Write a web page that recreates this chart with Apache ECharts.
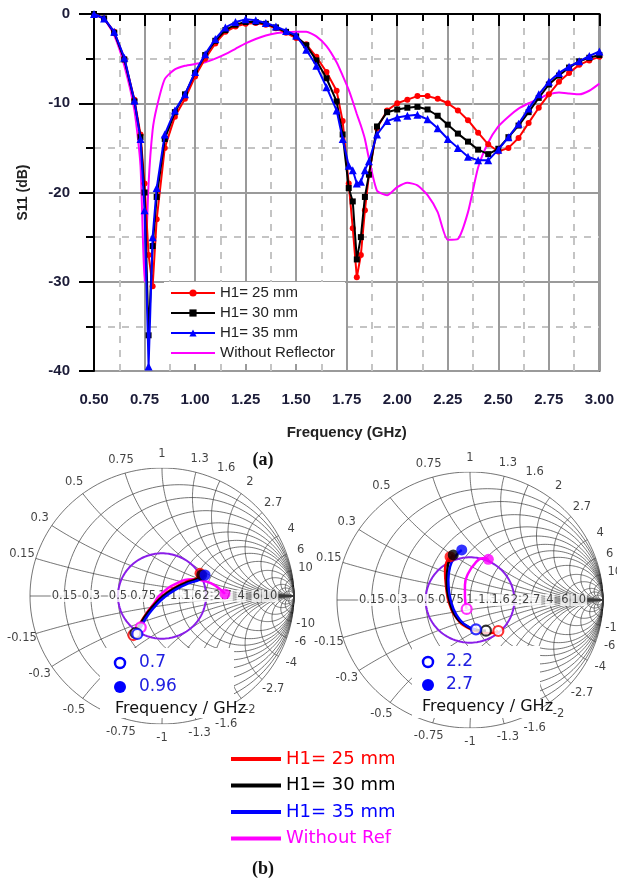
<!DOCTYPE html>
<html><head><meta charset="utf-8">
<script src="https://cdn.jsdelivr.net/npm/echarts@6/dist/echarts.min.js"></script>
<style>html,body{margin:0;padding:0;background:#fff}#c{width:617px;height:882px}</style>
</head><body><div id="c"></div>
<script>
// ---------- (a) S11 data ----------
const freq = [0.50,0.55,0.60,0.65,0.70,0.73,0.75,0.77,0.79,0.81,0.85,0.90,0.95,1.00,1.05,1.10,1.15,1.20,1.25,1.30,1.35,1.40,1.45,1.50,1.55,1.60,1.65,1.70,1.73,1.76,1.78,1.80,1.82,1.84,1.86,1.90,1.95,2.00,2.05,2.10,2.15,2.20,2.25,2.30,2.35,2.40,2.45,2.50,2.55,2.60,2.65,2.70,2.75,2.80,2.85,2.90,2.95,3.00];
const s11_25 = [0,-0.5,-2.0,-5.0,-9.6,-13.5,-19,-27,-30.5,-23,-15,-11.5,-9.5,-7.0,-5.0,-3.3,-2.0,-1.4,-1.1,-1.0,-1.2,-1.6,-2.1,-2.7,-3.4,-4.8,-6.5,-8.6,-12,-19,-24,-29.5,-27,-22,-18,-12.8,-10.8,-10.0,-9.6,-9.2,-9.2,-9.5,-10.0,-10.8,-11.9,-13.3,-14.6,-15.4,-15.0,-13.9,-12.2,-10.5,-9.0,-7.6,-6.6,-5.7,-5.2,-4.8];
const s11_30 = [0,-0.5,-2.1,-5.1,-9.8,-13.8,-20,-36,-26,-20.5,-14,-11,-9,-6.6,-4.6,-3.0,-1.8,-1.2,-0.9,-0.9,-1.1,-1.5,-2.0,-2.5,-3.5,-5.2,-7.2,-9.8,-13.5,-19.5,-21,-27.5,-25,-20.5,-18,-12.6,-11.0,-10.7,-10.5,-10.4,-10.7,-11.4,-12.4,-13.4,-14.3,-15.2,-15.7,-15.1,-13.8,-12.5,-11.0,-9.4,-7.9,-6.9,-6.0,-5.3,-4.9,-4.6];
const s11_35 = [0,-0.5,-2.0,-4.9,-9.7,-14.0,-22,-39.5,-25,-19.5,-13.5,-10.8,-9.0,-6.5,-4.5,-2.8,-1.5,-0.9,-0.6,-0.7,-1.0,-1.4,-1.9,-2.4,-4.0,-5.8,-8.2,-10.8,-14,-17,-17.5,-19,-18.8,-17.5,-16.5,-13.5,-12.0,-11.6,-11.4,-11.3,-11.8,-12.8,-14.0,-15.0,-16.0,-16.4,-16.4,-15.2,-13.8,-12.3,-10.6,-9.0,-7.6,-6.6,-5.9,-5.3,-4.7,-4.2];
const s11_noRef = [0,-0.6,-2.4,-5.8,-10.8,-17,-30,-19,-13,-10.5,-7.3,-6.2,-5.8,-5.6,-5.4,-5.0,-4.5,-3.9,-3.3,-2.8,-2.4,-2.15,-2.05,-2.0,-2.0,-2.5,-3.6,-5.4,-6.9,-8.5,-9.8,-11.2,-12.5,-14,-16.2,-19.8,-20.3,-19.4,-18.9,-19.2,-20.3,-22.2,-25.3,-25.2,-22.2,-17.2,-14.4,-12.6,-11.5,-10.6,-10.0,-9.5,-9.0,-8.8,-8.9,-9.0,-8.6,-7.8];
const xTicks = ['0.50','0.75','1.00','1.25','1.50','1.75','2.00','2.25','2.50','2.75','3.00'];
const yTicks = [0,-10,-20,-30,-40];
const namesA = ['H1= 25 mm','H1= 30 mm','H1= 35 mm','Without Reflector'];

// ---------- (b) reflection coefficient traces (Re Γ, Im Γ) ----------
const left25 = [[-0.217,-0.305],[-0.142,-0.174],[-0.078,-0.084],[-0.002,-0.005],[0.086,0.060],[0.187,0.112],[0.263,0.138],[0.288,0.177]];
const left30 = [[-0.201,-0.289],[-0.135,-0.170],[-0.070,-0.082],[0.005,-0.004],[0.093,0.058],[0.195,0.108],[0.272,0.135],[0.301,0.164]];
const left35 = [[-0.187,-0.297],[-0.125,-0.178],[-0.060,-0.090],[0.015,-0.012],[0.103,0.050],[0.205,0.100],[0.285,0.128],[0.326,0.164]];
const leftRef = [[-0.161,-0.245],[-0.116,-0.135],[-0.065,-0.065],[-0.015,0.008],[0.111,0.099],[0.237,0.130],[0.339,0.112],[0.414,0.073],[0.477,0.016]];
const right25 = [[0.213,-0.242],[0.150,-0.260],[0.062,-0.248],[-0.025,-0.213],[-0.100,-0.143],[-0.156,-0.026],[-0.180,0.104],[-0.188,0.234],[-0.175,0.299],[-0.150,0.338]];
const right30 = [[0.120,-0.240],[0.050,-0.234],[-0.038,-0.195],[-0.113,-0.117],[-0.156,0.000],[-0.175,0.130],[-0.168,0.260],[-0.126,0.352]];
const right35 = [[0.045,-0.229],[-0.013,-0.209],[-0.075,-0.156],[-0.126,-0.065],[-0.156,0.052],[-0.163,0.156],[-0.150,0.260],[-0.113,0.338],[-0.062,0.391]];
const rightRef = [[-0.025,-0.070],[-0.038,0.026],[-0.038,0.117],[-0.013,0.209],[0.038,0.287],[0.095,0.326],[0.138,0.318]];
const vswrGamma = 1/3;
const smithR = [0.15,0.3,0.5,0.75,1,1.3,1.6,2,2.7,4,6,10];
const smithX = [0.15,0.3,0.5,0.75,1,1.3,1.6,2,2.7,4,6,10];
const smithExtra = [15,25];
const bandLeft = ['0.7','0.96'];
const bandRight = ['2.2','2.7'];
const namesB = ['H1= 25 mm','H1= 30 mm','H1= 35 mm','Without Ref'];

const colors = ['#ff0000','#000000','#0000ff','#ff00ff'];

// ---------- Smith geometry ----------
function gam(r, x){ const d=(r+1)*(r+1)+x*x; return [(r*r+x*x-1)/d, 2*x/d]; }
function smithGrid(){
  const polys=[];
  [0].concat(smithR, smithExtra).forEach(r=>{
    const c=r/(1+r), rad=1/(1+r), pts=[];
    for(let k=0;k<=160;k++){const a=2*Math.PI*k/160; pts.push([c+rad*Math.cos(a), rad*Math.sin(a)]);}
    polys.push({coords:pts});
  });
  smithX.concat(smithExtra).forEach(x=>{[x,-x].forEach(xx=>{
    const pts=[]; for(let k=0;k<=100;k++){const s=(Math.PI/2)*0.999*k/100; pts.push(gam(Math.tan(s),xx));}
    polys.push({coords:pts});
  });});
  polys.push({coords:[[-1,0],[1,0]]});
  return polys;
}
function circlePoly(g){const pts=[];for(let k=0;k<=160;k++){const a=2*Math.PI*k/160;pts.push([g*Math.cos(a),g*Math.sin(a)]);}return [{coords:pts}];}
function reactLabels(){
  const out=[];
  smithX.forEach(x=>{[x,-x].forEach(xx=>{const g=gam(0,xx); out.push({name:String(xx), value:[g[0]*1.11,g[1]*1.11]});});});
  return out;
}
function resLabels(){ return smithR.map(r=>({name:String(r), value:[(r-1)/(r+1),0]})); }

function smithSeries(idx, tr){
  const s=[];
  s.push({type:'lines', coordinateSystem:'cartesian2d', xAxisIndex:idx, yAxisIndex:idx, polyline:true, silent:true, z:1,
    lineStyle:{color:'#3a3a3a', width:0.7, opacity:1}, data:smithGrid()});
  s.push({type:'lines', coordinateSystem:'cartesian2d', xAxisIndex:idx, yAxisIndex:idx, polyline:true, silent:true, z:3,
    lineStyle:{color:'#8a1ee8', width:2, opacity:1}, data:circlePoly(vswrGamma)});
  s.push({type:'scatter', xAxisIndex:idx, yAxisIndex:idx, symbolSize:1, clip:false, silent:true, z:4,
    itemStyle:{color:'rgba(0,0,0,0)'}, data:reactLabels(),
    label:{show:true, position:'inside', formatter:'{b}', color:'#111', fontSize:11.5, fontFamily:'DejaVu Sans'}});
  s.push({type:'scatter', xAxisIndex:idx, yAxisIndex:idx, symbolSize:1, clip:false, silent:true, z:4,
    itemStyle:{color:'rgba(0,0,0,0)'}, data:resLabels(),
    label:{show:true, position:'inside', formatter:'{b}', color:'#111', fontSize:11.5, fontFamily:'DejaVu Sans', backgroundColor:'#fff', padding:[0,1]}});
  const nm=['sm25','sm30','sm35','smRef'];
  const order=[3,0,1,2];
  order.forEach(i=>{
    s.push({type:'line', name:nm[i], xAxisIndex:idx, yAxisIndex:idx, data:tr[i], smooth:true, symbol:'none', z:5,
      lineStyle:{color:colors[i], width:2.5}, itemStyle:{color:colors[i]}});
  });
  order.forEach(i=>{
    s.push({type:'scatter', name:'mk', xAxisIndex:idx, yAxisIndex:idx, data:[tr[i][0]], symbol:'circle', symbolSize:10, z:6,
      itemStyle:{color:'#ffffff', borderColor:colors[i], borderWidth:2.2}});
    s.push({type:'scatter', name:'mk', xAxisIndex:idx, yAxisIndex:idx, data:[tr[i][tr[i].length-1]], symbol:'circle', symbolSize:11, z:6,
      itemStyle:{color:colors[i]}});
  });
  return s;
}

const pair = a => freq.map((f,i)=>[f,a[i]]);
const axisLblColor = '#1c1c38';

const option = {
  animation:false,
  grid:[
    {left:94, top:14, width:511, height:357, show:true, borderColor:'#555', borderWidth:2},
    {left:30, top:468, width:264, height:256},
    {left:337, top:472, width:266, height:256}
  ],
  xAxis:[
    {type:'value', gridIndex:0, min:0.5, max:3.0, interval:0.25,
      axisLine:{lineStyle:{color:'#000', width:2}},
      axisTick:{length:12, lineStyle:{color:'#000', width:2}},
      minorTick:{show:true, splitNumber:2, length:7, lineStyle:{color:'#000', width:2}},
      splitLine:{show:true, lineStyle:{color:'#9a9a9a', width:2}},
      minorSplitLine:{show:true, lineStyle:{color:'#c4c4c4', width:2, type:[7,7]}},
      axisLabel:{margin:21, fontWeight:'bold', fontSize:15, fontFamily:'Liberation Sans', color:axisLblColor,
        formatter:v=>{const t=v.toFixed(2); return xTicks.indexOf(t)>=0?t:'';}},
      name:'Frequency (GHz)', nameLocation:'middle', nameGap:54,
      nameTextStyle:{fontWeight:'bold', fontSize:15, fontFamily:'Liberation Sans', color:'#222'}},
    {type:'value', gridIndex:1, min:-1, max:1, show:false},
    {type:'value', gridIndex:2, min:-1, max:1, show:false}
  ],
  yAxis:[
    {type:'value', gridIndex:0, min:-40, max:0, interval:10,
      axisLine:{lineStyle:{color:'#000', width:2}},
      axisTick:{length:15, lineStyle:{color:'#000', width:2}},
      minorTick:{show:true, splitNumber:2, length:8, lineStyle:{color:'#000', width:2}},
      splitLine:{show:true, lineStyle:{color:'#9a9a9a', width:2}},
      minorSplitLine:{show:true, lineStyle:{color:'#c4c4c4', width:2, type:[7,7]}},
      axisLabel:{margin:24, fontWeight:'bold', fontSize:15, fontFamily:'Liberation Sans', color:axisLblColor,
        formatter:v=>yTicks.indexOf(v)>=0?String(v):''},
      name:'S11 (dB)', nameLocation:'middle', nameGap:64, nameRotate:90,
      nameTextStyle:{fontWeight:'bold', fontSize:14, fontFamily:'Liberation Sans', color:'#222'}},
    {type:'value', gridIndex:1, min:-1, max:1, show:false},
    {type:'value', gridIndex:2, min:-1, max:1, show:false}
  ],
  legend:[
    {data:[namesA[0],namesA[1],namesA[2],{name:namesA[3], icon:'path://M0,0L44,0L44,2.2L0,2.2Z'}],
      orient:'vertical', left:164, top:282, itemWidth:44, itemHeight:9, itemGap:4,
      backgroundColor:'#fff', padding:[3,10,3,6], selectedMode:false,
      textStyle:{fontSize:15, fontFamily:'Liberation Sans', color:'#222', lineHeight:16}},
    {data:['sm25','sm30','sm35','smRef'].map((n,i)=>({name:n, icon:'path://M0,0L50,0L50,4L0,4Z', textStyle:{color:colors[i]}})),
      orient:'vertical', left:226, top:744, itemWidth:50, itemHeight:14, itemGap:6.5, selectedMode:false,
      formatter:n=>namesB[['sm25','sm30','sm35','smRef'].indexOf(n)],
      textStyle:{fontSize:18, fontFamily:'DejaVu Sans', lineHeight:20}}
  ],
  graphic:[
    {type:'rect', z:100, shape:{x:100, y:648, width:134, height:70}, style:{fill:'#fff'}},
    {type:'rect', z:100, shape:{x:412, y:646, width:128, height:72}, style:{fill:'#fff'}},
    {type:'circle', z:101, shape:{cx:120, cy:663, r:5}, style:{fill:'#fff', stroke:'#0000ff', lineWidth:2.5}},
    {type:'circle', z:101, shape:{cx:120, cy:687, r:6}, style:{fill:'#0000ff'}},
    {type:'text', z:101, x:139, y:663, style:{text:bandLeft[0], font:'17px "DejaVu Sans"', fill:'#2020e0', verticalAlign:'middle'}},
    {type:'text', z:101, x:139, y:687, style:{text:bandLeft[1], font:'17px "DejaVu Sans"', fill:'#2020e0', verticalAlign:'middle'}},
    {type:'text', z:101, x:115, y:709, style:{text:'Frequency / GHz', font:'16px "DejaVu Sans"', fill:'#111', verticalAlign:'middle'}},
    {type:'circle', z:101, shape:{cx:428, cy:662, r:5}, style:{fill:'#fff', stroke:'#0000ff', lineWidth:2.5}},
    {type:'circle', z:101, shape:{cx:428, cy:685, r:6}, style:{fill:'#0000ff'}},
    {type:'text', z:101, x:446, y:662, style:{text:bandRight[0], font:'17px "DejaVu Sans"', fill:'#2020e0', verticalAlign:'middle'}},
    {type:'text', z:101, x:446, y:685, style:{text:bandRight[1], font:'17px "DejaVu Sans"', fill:'#2020e0', verticalAlign:'middle'}},
    {type:'text', z:101, x:422, y:707, style:{text:'Frequency / GHz', font:'16px "DejaVu Sans"', fill:'#111', verticalAlign:'middle'}},
    {type:'text', z:101, x:263, y:460, style:{text:'(a)', font:'bold 18px "Liberation Serif"', fill:'#111', align:'center', verticalAlign:'middle'}},
    {type:'text', z:101, x:263, y:869, style:{text:'(b)', font:'bold 18px "Liberation Serif"', fill:'#111', align:'center', verticalAlign:'middle'}}
  ],
  series:[
    {type:'line', name:namesA[3], data:pair(s11_noRef), symbol:'none', smooth:0.2, z:2,
      lineStyle:{color:colors[3], width:2}, itemStyle:{color:colors[3]}},
    {type:'line', name:namesA[0], data:pair(s11_25), symbol:'circle', symbolSize:6, z:3,
      lineStyle:{color:colors[0], width:2}, itemStyle:{color:colors[0]}},
    {type:'line', name:namesA[1], data:pair(s11_30), symbol:'rect', symbolSize:6, z:4,
      lineStyle:{color:colors[1], width:2}, itemStyle:{color:colors[1]}},
    {type:'line', name:namesA[2], data:pair(s11_35), symbol:'triangle', symbolSize:8, z:5,
      lineStyle:{color:colors[2], width:2}, itemStyle:{color:colors[2]}}
  ].concat(smithSeries(1,[left25,left30,left35,leftRef]), smithSeries(2,[right25,right30,right35,rightRef]))
};
const chart = echarts.init(document.getElementById('c'), null, {renderer:'canvas'});
chart.setOption(option);
</script></body></html>
